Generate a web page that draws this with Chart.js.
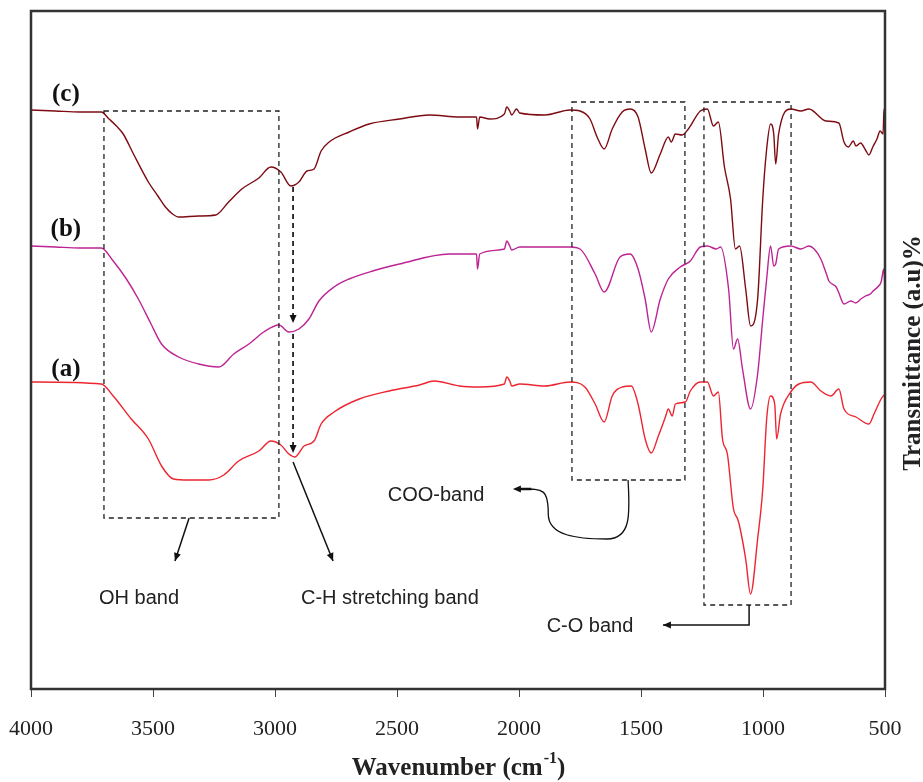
<!DOCTYPE html>
<html>
<head>
<meta charset="utf-8">
<script src="https://cdn.jsdelivr.net/npm/chart.js@4"></script>
<style>
  body { margin: 0; background: #fff; }
  #wrap { width: 923px; height: 782px; }
</style>
</head>
<body>
<div id="wrap"><canvas id="ftirChart" width="923" height="782"></canvas></div>
<script>
// wavenumber (cm-1) / transmittance (a.u.)
const wnC = [4000, 3900, 3800, 3712, 3680, 3650, 3622, 3580, 3519, 3480, 3449, 3420, 3395, 3313, 3243, 3190, 3136, 3066, 3017, 2976, 2935, 2902, 2869, 2840, 2811, 2778, 2696, 2614, 2490, 2367, 2244, 2174, 2170, 2161, 2120, 2060, 2050, 2038, 2030, 2010, 1997, 1894, 1791, 1750, 1709, 1680, 1651, 1618, 1577, 1544, 1512, 1483, 1458, 1421, 1388, 1376, 1359, 1331, 1306, 1257, 1228, 1203, 1183, 1158, 1133, 1113, 1096, 1071, 1051, 1022, 1001, 985, 969, 956, 948, 936, 886, 845, 812, 742, 689, 668, 650, 630, 619, 600, 580, 566, 550, 533, 520, 508, 504, 500];
const trC = [57.9, 57.8, 57.7, 57.7, 57.0, 56.3, 55.5, 53.5, 50.7, 49.3, 48.2, 47.5, 47.2, 47.3, 47.4, 48.7, 50.0, 51.1, 52.2, 51.7, 50.3, 50.7, 51.8, 52.0, 53.8, 54.7, 55.7, 56.5, 57.0, 57.4, 57.2, 57.2, 56.0, 57.2, 57.0, 57.5, 58.2, 57.8, 57.4, 58.0, 57.6, 57.4, 57.9, 57.8, 57.0, 55.2, 54.0, 56.0, 57.7, 58.0, 57.2, 54.0, 51.6, 53.5, 55.2, 54.7, 55.5, 55.4, 56.0, 57.8, 58.0, 56.3, 56.7, 52.2, 49.0, 44.0, 44.3, 40.0, 36.3, 39.0, 49.0, 54.0, 56.5, 55.5, 52.5, 55.5, 58.0, 57.8, 58.0, 56.8, 56.6, 54.7, 54.2, 54.8, 54.3, 54.6, 53.9, 53.4, 54.2, 55.0, 55.8, 55.5, 58.0, 55.0];

const wnB = [4000, 3900, 3800, 3712, 3663, 3609, 3560, 3510, 3465, 3395, 3313, 3231, 3169, 3107, 3046, 2984, 2943, 2902, 2861, 2820, 2758, 2696, 2600, 2490, 2285, 2174, 2170, 2161, 2060, 2050, 2038, 2030, 1997, 1791, 1750, 1688, 1651, 1586, 1544, 1512, 1483, 1458, 1421, 1388, 1339, 1298, 1257, 1228, 1191, 1174, 1141, 1121, 1104, 1084, 1051, 1022, 1001, 985, 969, 956, 948, 936, 886, 845, 812, 790, 763, 740, 730, 700, 689, 668, 640, 620, 599, 580, 560, 549, 530, 516, 505, 500];
const trB = [44.3, 44.2, 44.1, 44.1, 42.8, 41.0, 39.0, 36.6, 34.5, 33.2, 32.5, 32.2, 33.5, 34.5, 35.7, 36.4, 35.7, 36.0, 37.0, 38.8, 40.2, 41.0, 41.8, 42.5, 43.5, 43.5, 42.0, 43.5, 44.0, 44.8, 44.3, 43.9, 44.2, 44.2, 44.0, 41.5, 39.7, 43.2, 43.5, 42.0, 39.0, 35.7, 39.0, 41.0, 42.2, 42.8, 44.2, 44.3, 44.0, 44.2, 40.0, 34.0, 35.0, 32.0, 28.0, 31.5, 37.0, 41.0, 44.3, 42.3, 42.5, 44.0, 44.3, 44.0, 44.3, 44.0, 43.0, 41.5, 40.8, 40.2, 39.6, 38.5, 38.8, 38.6, 39.0, 39.3, 39.5, 39.8, 40.2, 40.7, 42.0, 40.0];

const wnA = [4000, 3712, 3663, 3589, 3519, 3465, 3416, 3354, 3272, 3210, 3149, 3066, 3017, 2976, 2943, 2918, 2881, 2840, 2811, 2758, 2655, 2532, 2408, 2347, 2244, 2161, 2060, 2050, 2038, 2030, 1997, 1894, 1791, 1730, 1688, 1651, 1618, 1577, 1540, 1512, 1483, 1458, 1429, 1400, 1388, 1372, 1359, 1318, 1298, 1257, 1228, 1203, 1183, 1166, 1146, 1121, 1104, 1096, 1071, 1051, 1022, 1001, 985, 969, 952, 944, 928, 886, 853, 804, 763, 722, 689, 668, 619, 566, 545, 516, 500];
const trA = [30.7, 30.5, 29.3, 27.0, 25.0, 22.3, 21.0, 20.9, 20.9, 21.4, 22.8, 23.8, 24.8, 24.4, 23.5, 23.2, 24.3, 24.8, 26.5, 27.7, 29.0, 29.8, 30.4, 30.8, 30.3, 30.2, 30.5, 31.2, 30.8, 30.3, 30.5, 30.3, 30.7, 30.2, 28.5, 26.7, 29.3, 30.2, 30.3, 28.5, 25.0, 23.6, 25.3, 27.2, 28.0, 27.3, 28.5, 28.7, 29.8, 30.7, 30.7, 29.3, 29.7, 25.0, 23.5, 18.0, 17.0, 16.3, 13.0, 9.5, 15.0, 20.0, 27.0, 29.3, 28.5, 25.0, 27.5, 29.7, 30.5, 30.7, 29.8, 29.3, 30.0, 28.0, 27.2, 26.5, 27.5, 29.0, 29.5];

const xTicks = [4000, 3500, 3000, 2500, 2000, 1500, 1000, 500];

const toPoints = (xs, ys) => xs.map((x, i) => ({ x: x, y: ys[i] }));

//กรอบเส้นประ ลูกศร และข้อความ
const annotate = {
    id: 'annotate',
    afterDatasetsDraw(chart) {
        const ctx = chart.ctx;
        const a = chart.chartArea;
        const sx = chart.scales.x, sy = chart.scales.y;
        const X = v => sx.getPixelForValue(v);
        const Y = v => sy.getPixelForValue(v);

        ctx.save();
        // frame
        ctx.strokeStyle = '#333';
        ctx.lineWidth = 2.5;
        ctx.strokeRect(a.left, a.top, a.right - a.left, a.bottom - a.top);

        // dashed boxes
        ctx.strokeStyle = '#222';
        ctx.lineWidth = 1.3;
        ctx.setLineDash([5, 4]);
        [[3701, 2984, 57.8, 17.1], [1783, 1320, 58.7, 20.9], [1242, 885, 58.7, 8.4]].forEach(b => {
            ctx.strokeRect(X(b[0]), Y(b[2]), X(b[1]) - X(b[0]), Y(b[3]) - Y(b[2]));
        });
        // C-H dashed arrows
        ctx.lineWidth = 1.8;
        ctx.beginPath();
        ctx.moveTo(X(2926), Y(50.2)); ctx.lineTo(X(2926), Y(37.2));
        ctx.moveTo(X(2926), Y(35.5)); ctx.lineTo(X(2926), Y(24.2));
        ctx.stroke();
        ctx.setLineDash([]);

        function head(x1, y1, x2, y2) {
            const ang = Math.atan2(y2 - y1, x2 - x1);
            const L = 8, W = 3.5;
            ctx.beginPath();
            ctx.moveTo(x2, y2);
            ctx.lineTo(x2 - L * Math.cos(ang) + W * Math.sin(ang), y2 - L * Math.sin(ang) - W * Math.cos(ang));
            ctx.lineTo(x2 - L * Math.cos(ang) - W * Math.sin(ang), y2 - L * Math.sin(ang) + W * Math.cos(ang));
            ctx.closePath();
            ctx.fill();
        }
        ctx.fillStyle = '#111';
        ctx.strokeStyle = '#111';
        head(X(2926), Y(40), X(2926), Y(36.6));
        head(X(2926), Y(27), X(2926), Y(23.6));

        ctx.lineWidth = 1.5;
        function arrow(x1, y1, x2, y2) {
            ctx.beginPath();
            ctx.moveTo(X(x1), Y(y1));
            ctx.lineTo(X(x2), Y(y2));
            ctx.stroke();
            head(X(x1), Y(y1), X(x2), Y(y2));
        }
        arrow(3352, 17.1, 3410, 12.8);
        arrow(2926, 22.7, 2762, 12.8);

        // C-O elbow arrow
        ctx.beginPath();
        ctx.moveTo(X(1057), Y(8.4));
        ctx.lineTo(X(1057), Y(6.4));
        ctx.lineTo(X(1410), Y(6.4));
        ctx.stroke();
        head(X(1300), Y(6.4), X(1410), Y(6.4));

        // COO curved arrow
        ctx.lineWidth = 1.3;
        ctx.beginPath();
        ctx.moveTo(X(1553), Y(20.9));
        ctx.bezierCurveTo(X(1545), Y(17.5), X(1540), Y(15.0), X(1640), Y(15.0));
        ctx.bezierCurveTo(X(1760), Y(15.0), X(1880), Y(15.3), X(1880), Y(17.5));
        ctx.bezierCurveTo(X(1880), Y(20.0), X(1900), Y(20.0), X(1990), Y(20.0));
        ctx.stroke();
        ctx.lineWidth = 2.5;
        ctx.beginPath();
        ctx.moveTo(X(1950), Y(20.0)); ctx.lineTo(X(2000), Y(20.0));
        ctx.stroke();
        head(X(1960), Y(20.0), X(2025), Y(20.0));

        // band labels
        ctx.fillStyle = '#222';
        ctx.font = '20px "Liberation Sans", Arial, sans-serif';
        ctx.textAlign = 'center';
        ctx.textBaseline = 'middle';
        ctx.fillText('OH band', X(3557), Y(9.1));
        ctx.fillText('C-H stretching band', X(2529), Y(9.1));
        ctx.fillText('COO-band', X(2340), Y(19.4));
        ctx.fillText('C-O band', X(1709), Y(6.3));

        // sample labels
        ctx.fillStyle = '#111';
        ctx.font = 'bold 25px "Liberation Serif", serif';
        ctx.fillText('(c)', X(3857), Y(59.4));
        ctx.fillText('(b)', X(3857), Y(45.9));
        ctx.fillText('(a)', X(3857), Y(31.9));

        // axis titles
        ctx.fillStyle = '#222';
        const big = 'bold 25px "Liberation Serif", serif';
        const small = 'bold 16px "Liberation Serif", serif';
        const main = 'Wavenumber (cm';
        const sup = '-1';
        const tail = ')';
        ctx.font = big;
        const w1 = ctx.measureText(main).width;
        const w3 = ctx.measureText(tail).width;
        ctx.font = small;
        const w2 = ctx.measureText(sup).width;
        const cx = (a.left + a.right) / 2;
        const x0 = cx - (w1 + w2 + w3) / 2;
        const ty = 769;
        ctx.textAlign = 'left';
        ctx.font = big;
        ctx.fillText(main, x0, ty);
        ctx.font = small;
        ctx.fillText(sup, x0 + w1 + 1, ty - 10);
        ctx.font = big;
        ctx.fillText(tail, x0 + w1 + w2 + 1, ty);

        ctx.translate(914, 353);
        ctx.rotate(-Math.PI / 2);
        ctx.textAlign = 'center';
        ctx.fillText('Transmittance (a.u)%', 0, 0);
        ctx.restore();
    }
};

document.addEventListener('DOMContentLoaded', function () {
    const ctx = document.getElementById('ftirChart').getContext('2d');
    new Chart(ctx, {
        type: 'line',
        data: {
            datasets: [
                { label: '(c)', data: toPoints(wnC, trC), borderColor: '#7d0b12' },
                { label: '(b)', data: toPoints(wnB, trB), borderColor: '#bd2394' },
                { label: '(a)', data: toPoints(wnA, trA), borderColor: '#ec2530' }
            ]
        },
        options: {
            responsive: false,
            animation: false,
            elements: {
                line: { borderWidth: 1.4, cubicInterpolationMode: 'monotone', fill: false },
                point: { radius: 0, hoverRadius: 0 }
            },
            layout: { padding: { left: 31, right: 38, top: 11, bottom: 0 } },
            plugins: {
                legend: { display: false },
                tooltip: { enabled: false }
            },
            scales: {
                x: {
                    type: 'linear',
                    reverse: true,
                    min: 500,
                    max: 4000,
                    afterBuildTicks: scale => { scale.ticks = xTicks.map(v => ({ value: v })); },
                    afterFit: scale => {
                        scale.height = 93;
                        scale.paddingLeft = 0;
                        scale.paddingRight = 0;
                    },
                    border: { display: false },
                    grid: {
                        drawOnChartArea: false,
                        drawTicks: true,
                        tickLength: 8,
                        color: '#444',
                        lineWidth: 1
                    },
                    ticks: {
                        autoSkip: false,
                        maxRotation: 0,
                        padding: 19,
                        color: '#222',
                        font: { family: '"Liberation Serif", serif', size: 22 },
                        callback: v => String(v)
                    }
                },
                y: {
                    display: false,
                    min: 0,
                    max: 67.8
                }
            }
        },
        plugins: [annotate]
    });
});
</script>
</body>
</html>
